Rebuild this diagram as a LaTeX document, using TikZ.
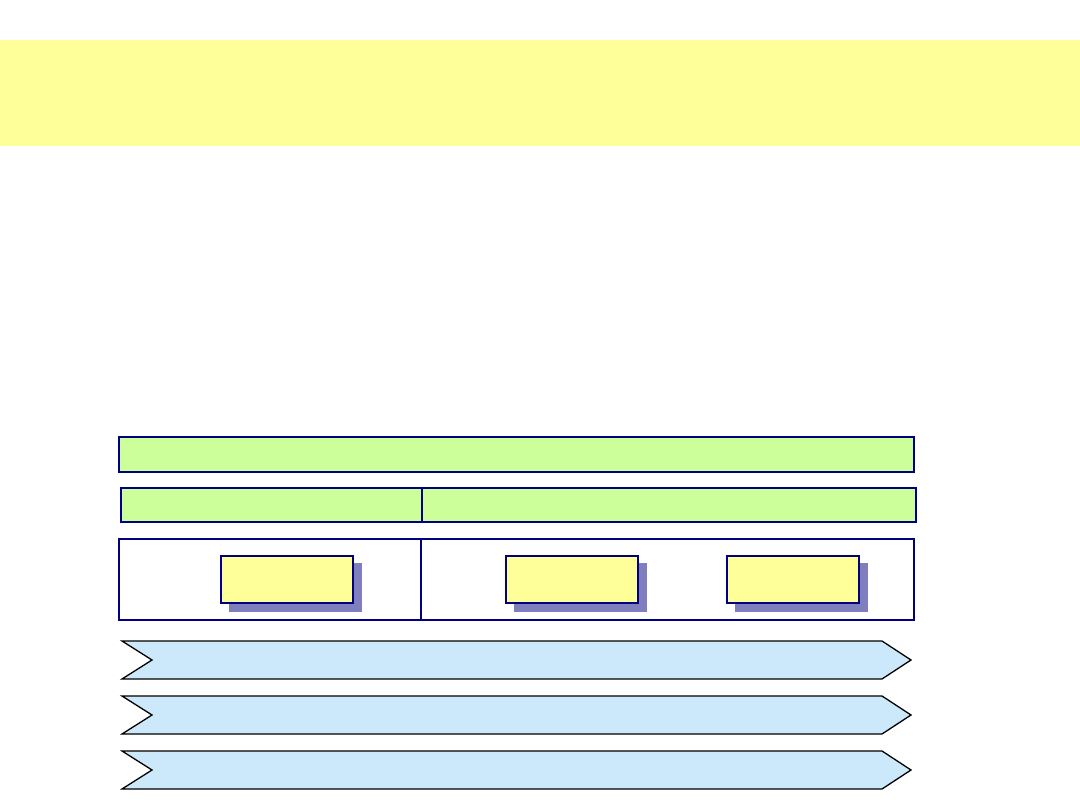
\documentclass[tikz,border=0pt]{standalone}
\begin{document}
\begin{tikzpicture}[x=1pt,y=-1pt,
  band/.style={fill=bandyellow,draw=none},
  greenbar/.style={fill=barGreen,draw=navy,line width=2pt},
  whitebox/.style={fill=white,draw=navy,line width=1.2pt},
  ybox/.style={fill=boxYellow,draw=navy,line width=2pt},
  shadowbox/.style={fill=shadowBlue,draw=none},
  chevron/.style={fill=chevBlue,draw=black,line width=1.3pt,line join=miter}]
\definecolor{bandyellow}{HTML}{FFFF99}
\definecolor{barGreen}{HTML}{CCFF99}
\definecolor{navy}{HTML}{000080}
\definecolor{boxYellow}{HTML}{FFFF99}
\definecolor{shadowBlue}{HTML}{7F7FBF}
\definecolor{chevBlue}{HTML}{CCE9FB}
\useasboundingbox (0,0) rectangle (1080,810);
% top band
\path[band] (0,40) rectangle (1080,146);
% green bar 1
\draw[greenbar,line width=1.4pt] (119,437) rectangle (914,472);
% green bar 2 with divider
\draw[greenbar] (121,488) rectangle (916,522);
\draw[navy,line width=2pt] (422,488) -- (422,522);
% white box with divider
\draw[whitebox] (119,539) rectangle (914,620);
\draw[navy,line width=1.7pt] (421,539) -- (421,620);
% yellow boxes with shadows
\foreach \x/\n in {220/a,505/b,726/c}{
  \path[shadowbox] (\x+9,563) rectangle (\x+142,612);
  \node[ybox,minimum width=132pt,minimum height=47pt,inner sep=0pt,anchor=north west] (\n) at (\x,555) {};
}
% chevrons
\foreach \t/\n in {641/r1,696/r2,751/r3}{
  \draw[chevron] (122,\t) -- (882,\t) -- (911,\t+19) -- (882,\t+38) -- (122,\t+38) -- (152,\t+19) -- cycle;
}
\end{tikzpicture}
\end{document}
